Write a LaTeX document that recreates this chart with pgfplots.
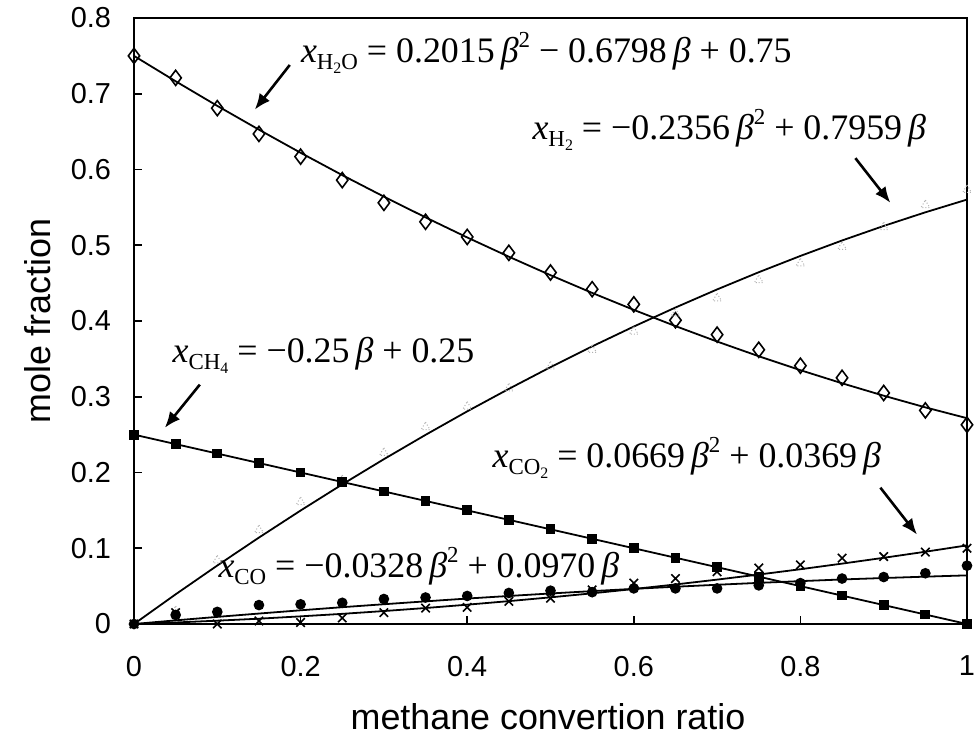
\documentclass[border=0pt]{standalone}
\usepackage{fontspec}
\setmainfont{Liberation Sans}
\newfontfamily\eqfont{Liberation Serif}
\usepackage{pgfplots}
\pgfplotsset{compat=1.18}
\usetikzlibrary{arrows.meta}

% equation pieces, set in Times-like serif
\newcommand{\sub}[1]{\raisebox{-3.5bp}{\fontsize{11.5}{11.5}\selectfont #1}}
\newcommand{\subsub}[1]{\raisebox{-2bp}{\fontsize{8}{8}\selectfont #1}}
\newcommand{\sq}{\raisebox{7.5bp}{\fontsize{11.5}{11.5}\selectfont 2}}
\newcommand{\bt}{\,\textit{β}}

\begin{document}
\begin{tikzpicture}
\useasboundingbox (-67bp,-58.5bp) rectangle (422.5bp,312bp);
\begin{axis}[
    scale only axis,
    width=416.5bp, height=303bp,
    xmin=0, xmax=1, ymin=0, ymax=0.8,
    xtick={0,0.2,...,1}, ytick={0,0.1,...,0.8},
    tick pos=left, tick align=inside,
    major tick length=4bp,
    axis line style={line width=1pt},
    tick style={line width=0.8pt, black},
    /pgf/number format/assume math mode=true,
    /pgf/number format/.cd, fixed, precision=1, /pgfplots/.cd,
    ticklabel style={font=\fontsize{14.5}{15}\selectfont},
    yticklabel style={xshift=-8bp},
    xticklabel style={yshift=-12.5bp},
    xlabel={methane convertion ratio},
    ylabel={mole fraction},
    every axis x label/.style={at={(axis description cs:0.497,-0.1535)}, anchor=center,
        font=\fontsize{18}{20}\selectfont},
    every axis y label/.style={at={(axis description cs:-0.1152,0.5)}, rotate=90, anchor=center,
        font=\fontsize{18}{20}\selectfont},
    clip=false,
    every axis plot/.append style={line width=0.9pt, black},
]
% ---- fitted curves ----
% H2O fit
\addplot[no marks] coordinates {
 (0,0.75) (0.05,0.7165) (0.1,0.6840) (0.15,0.6526) (0.2,0.6221) (0.25,0.5926)
 (0.3,0.5642) (0.35,0.5368) (0.4,0.5103) (0.45,0.4849) (0.5,0.4605) (0.55,0.4371)
 (0.6,0.4147) (0.65,0.3933) (0.7,0.3729) (0.75,0.3535) (0.8,0.3351) (0.85,0.3178)
 (0.9,0.3014) (0.95,0.2860) (1,0.2717)};
% H2 fit
\addplot[no marks] coordinates {
 (0,0) (0.05,0.0392) (0.1,0.0772) (0.15,0.1141) (0.2,0.1498) (0.25,0.1843)
 (0.3,0.2176) (0.35,0.2497) (0.4,0.2807) (0.45,0.3104) (0.5,0.3391) (0.55,0.3665)
 (0.6,0.3927) (0.65,0.4178) (0.7,0.4417) (0.75,0.4644) (0.8,0.4859) (0.85,0.5063)
 (0.9,0.5255) (0.95,0.5435) (1,0.5603)};
% CH4 fit
\addplot[no marks] coordinates {(0,0.25) (1,0)};
% CO2 fit
\addplot[no marks] coordinates {
 (0,0) (0.05,0.0020) (0.1,0.0044) (0.15,0.0070) (0.2,0.0101) (0.25,0.0134)
 (0.3,0.0171) (0.35,0.0211) (0.4,0.0255) (0.45,0.0302) (0.5,0.0352) (0.55,0.0405)
 (0.6,0.0462) (0.65,0.0522) (0.7,0.0586) (0.75,0.0653) (0.8,0.0723) (0.85,0.0797)
 (0.9,0.0874) (0.95,0.0954) (1,0.1038)};
% CO fit
\addplot[no marks] coordinates {
 (0,0) (0.05,0.0048) (0.1,0.0094) (0.15,0.0138) (0.2,0.0181) (0.25,0.0222)
 (0.3,0.0261) (0.35,0.0299) (0.4,0.0336) (0.45,0.0370) (0.5,0.0403) (0.55,0.0434)
 (0.6,0.0464) (0.65,0.0492) (0.7,0.0518) (0.75,0.0543) (0.8,0.0566) (0.85,0.0588)
 (0.9,0.0607) (0.95,0.0625) (1,0.0642)};

% ---- data points ----
% H2O
\addplot[only marks, mark=diamond, mark size=3.8pt, mark options={line width=0.8pt, fill=white}] coordinates {
 (0,0.75) (0.05,0.721) (0.1,0.681) (0.15,0.647) (0.2,0.617) (0.25,0.586)
 (0.3,0.556) (0.35,0.531) (0.4,0.511) (0.45,0.490) (0.5,0.464) (0.55,0.442)
 (0.6,0.422) (0.65,0.401) (0.7,0.382) (0.75,0.362) (0.8,0.341) (0.85,0.325)
 (0.9,0.305) (0.95,0.282) (1,0.263)};
% H2
\addplot[only marks, mark=triangle, mark size=2.5pt, mark options={draw=black!30, line width=0.5pt, densely dotted}] coordinates {
 (0,0) (0.05,0.017) (0.1,0.084) (0.15,0.124) (0.2,0.161) (0.25,0.190)
 (0.3,0.226) (0.35,0.260) (0.4,0.287) (0.45,0.311) (0.5,0.340) (0.55,0.362)
 (0.6,0.386) (0.65,0.410) (0.7,0.430) (0.75,0.454) (0.8,0.476) (0.85,0.498)
 (0.9,0.524) (0.95,0.553) (1,0.573)};
% CH4
\addplot[only marks, mark=square*, mark size=2pt] coordinates {
 (0,0.25) (0.05,0.2375) (0.1,0.225) (0.15,0.2125) (0.2,0.2) (0.25,0.1875)
 (0.3,0.175) (0.35,0.1625) (0.4,0.15) (0.45,0.1375) (0.5,0.125) (0.55,0.1125)
 (0.6,0.1) (0.65,0.0875) (0.7,0.075) (0.75,0.0625) (0.8,0.05) (0.85,0.0375)
 (0.9,0.025) (0.95,0.0125) (1,0)};
% CO2
\addplot[only marks, mark=x, mark size=3pt, mark options={line width=0.8pt}] coordinates {
 (0,0) (0.05,0.015) (0.1,0.0) (0.15,0.004) (0.2,0.002) (0.25,0.008)
 (0.3,0.015) (0.35,0.021) (0.4,0.022) (0.45,0.030) (0.5,0.034) (0.55,0.045)
 (0.6,0.054) (0.65,0.060) (0.7,0.069) (0.75,0.074) (0.8,0.078) (0.85,0.087)
 (0.9,0.089) (0.95,0.095) (1,0.100)};
% CO
\addplot[only marks, mark=*, mark size=2.2pt] coordinates {
 (0,0) (0.05,0.012) (0.1,0.016) (0.15,0.025) (0.2,0.026) (0.25,0.028)
 (0.3,0.033) (0.35,0.035) (0.4,0.037) (0.45,0.041) (0.5,0.044) (0.55,0.042)
 (0.6,0.047) (0.65,0.047) (0.7,0.047) (0.75,0.051) (0.8,0.054) (0.85,0.060)
 (0.9,0.062) (0.95,0.067) (1,0.077)};

% ---- equations and arrows ----
\begin{scope}[every node/.style={font=\eqfont\fontsize{18}{20}\selectfont, inner sep=0pt}]
\node[anchor=base west] at (axis cs:0.2,0.741)
  {\textit{x}\sub{H\subsub{2}O} = 0.2015\bt\sq{} − 0.6798\bt{} + 0.75};
\node[anchor=base west] at (axis cs:0.478,0.639)
  {\textit{x}\sub{H\subsub{2}} = −0.2356\bt\sq{} + 0.7959\bt};
\node[anchor=base west] at (axis cs:0.046,0.345)
  {\textit{x}\sub{CH\subsub{4}} = −0.25\bt{} + 0.25};
\node[anchor=base west] at (axis cs:0.43,0.207)
  {\textit{x}\sub{CO\subsub{2}} = 0.0669\bt\sq{} + 0.0369\bt};
\node[anchor=base west] at (axis cs:0.101,0.062)
  {\textit{x}\sub{CO} = −0.0328\bt\sq{} + 0.0970\bt};
\end{scope}
\begin{scope}[line width=1.3pt, -{Latex[length=8bp,width=6.5bp]}]
\draw (axis cs:0.187,0.738) -- (axis cs:0.145,0.679);
\draw (axis cs:0.866,0.615) -- (axis cs:0.908,0.556);
\draw (axis cs:0.079,0.316) -- (axis cs:0.037,0.259);
\draw (axis cs:0.896,0.180) -- (axis cs:0.940,0.118);
\end{scope}
\end{axis}
\end{tikzpicture}
\end{document}
